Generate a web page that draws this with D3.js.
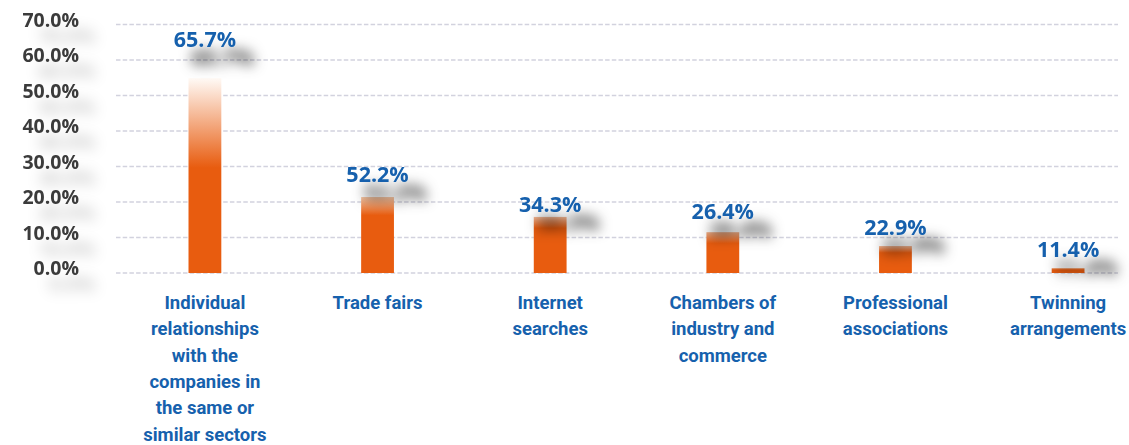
<!DOCTYPE html>
<html>
<head>
<meta charset="utf-8">
<script src="https://cdn.jsdelivr.net/npm/d3@7"></script>
<style>
  body { margin: 0; background: #fff; }
  svg { display: block; }
</style>
</head>
<body>
<svg id="chart"></svg>
<script>
// Data
const categories = [
    'Individual\nrelationships\nwith the\ncompanies in\nthe same or\nsimilar sectors',
    'Trade fairs',
    'Internet\nsearches',
    'Chambers of\nindustry and\ncommerce',
    'Professional\nassociations',
    'Twinning\narrangements'
];
const values = [65.7, 52.2, 34.3, 26.4, 22.9, 11.4];
// bar heights as they show in the picture (bars still growing)
const barLevels = [54.9, 21.4, 15.8, 11.5, 7.6, 1.4];
// where each value label sits, in axis units
const labelLevels = [63.6, 25.6, 17.2, 15.2, 10.7, 4.5];
const ticks = [0, 10, 20, 30, 40, 50, 60, 70];

// Constants
const width = 1129;
const height = 445;
const gridLeft = 116;
const gridRight = 1118;

const orange = '#e85c0f';
const blue = '#1661ad';
const numFont = '"Open Sans", sans-serif';
const catFont = 'Roboto, sans-serif';

const svg = d3.select('#chart')
    .attr('width', width)
    .attr('height', height);

const defs = svg.append('defs');

// shadows
function shadow(id, blur, dx, dy, opacity) {
    const f = defs.append('filter')
        .attr('id', id)
        .attr('filterUnits', 'userSpaceOnUse')
        .attr('x', -50).attr('y', -50)
        .attr('width', width + 100).attr('height', height + 100);
    f.append('feGaussianBlur').attr('in', 'SourceAlpha').attr('stdDeviation', blur).attr('result', 'b');
    f.append('feOffset').attr('in', 'b').attr('dx', dx).attr('dy', dy).attr('result', 'o');
    f.append('feFlood').attr('flood-color', '#000').attr('flood-opacity', opacity).attr('result', 'c');
    f.append('feComposite').attr('in', 'c').attr('in2', 'o').attr('operator', 'in').attr('result', 's');
    const m = f.append('feMerge');
    m.append('feMergeNode').attr('in', 's');
    m.append('feMergeNode').attr('in', 'SourceGraphic');
}
shadow('tickShadow', 7, 16, 16, 0.22);
shadow('valueShadow', 6.5, 18, 18, 0.85);

// bar fades
const fades = [0.46, 0.24, 0.2, 0.27, 0.25, 0.35];
const fadeTops = ['#fffaf6', '#f6c7a6', '#f2b896', '#f0b08a', '#f2b896', '#f4b890'];
fades.forEach((f, i) => {
    const g = defs.append('linearGradient')
        .attr('id', 'fade' + i)
        .attr('x1', 0).attr('y1', 0).attr('x2', 0).attr('y2', 1);
    g.append('stop').attr('offset', 0).attr('stop-color', fadeTops[i]);
    g.append('stop').attr('offset', f).attr('stop-color', orange);
    g.append('stop').attr('offset', 1).attr('stop-color', orange);
});

// scales
const y = d3.scaleLinear()
    .domain([0, 70])
    .range([273, 24.5]);

const x = d3.scaleBand()
    .domain(categories)
    .range([116, 1157])
    .paddingInner(0.81)
    .paddingOuter(0.42);

// grid
svg.append('g')
    .selectAll('line')
    .data(ticks).enter().append('line')
    .attr('x1', gridLeft)
    .attr('x2', gridRight)
    .attr('y1', d => y(d))
    .attr('y2', d => y(d))
    .attr('stroke', '#d2d2de')
    .attr('stroke-width', 1.5)
    .attr('stroke-dasharray', '4.5,2.2');

// y labels
svg.append('g')
    .selectAll('text')
    .data(ticks).enter().append('text')
    .attr('x', 79)
    .attr('y', d => y(d) - 4.5)
    .attr('dy', '0.35em')
    .attr('text-anchor', 'end')
    .attr('font-family', numFont)
    .attr('font-weight', 700)
    .attr('font-size', 19.5)
    .attr('fill', '#3a3a3a')
    .attr('filter', 'url(#tickShadow)')
    .text(d => d.toFixed(1) + '%');

// bars
svg.append('g')
    .selectAll('rect')
    .data(categories).enter().append('rect')
    .attr('x', d => x(d))
    .attr('width', x.bandwidth())
    .attr('y', (d, i) => y(barLevels[i]))
    .attr('height', (d, i) => y(0) - y(barLevels[i]))
    .attr('fill', (d, i) => `url(#fade${i})`);

// value labels
svg.append('g')
    .selectAll('text')
    .data(categories).enter().append('text')
    .attr('x', d => x(d) + x.bandwidth() / 2)
    .attr('y', (d, i) => y(labelLevels[i]))
    .attr('text-anchor', 'middle')
    .attr('font-family', numFont)
    .attr('font-weight', 700)
    .attr('font-size', 21.5)
    .attr('fill', blue)
    .attr('filter', 'url(#valueShadow)')
    .text((d, i) => values[i].toFixed(1) + '%');

// category labels
const cat = svg.append('g')
    .selectAll('text')
    .data(categories).enter().append('text')
    .attr('x', d => x(d) + x.bandwidth() / 2)
    .attr('y', 309)
    .attr('text-anchor', 'middle')
    .attr('font-family', catFont)
    .attr('font-weight', 700)
    .attr('font-size', 18.5)
    .attr('fill', blue);

cat.selectAll('tspan')
    .data(d => d.split('\n')).enter().append('tspan')
    .attr('x', function () { return this.parentNode.getAttribute('x'); })
    .attr('dy', (d, i) => i === 0 ? 0 : 26.3)
    .text(d => d);
</script>
</body>
</html>
